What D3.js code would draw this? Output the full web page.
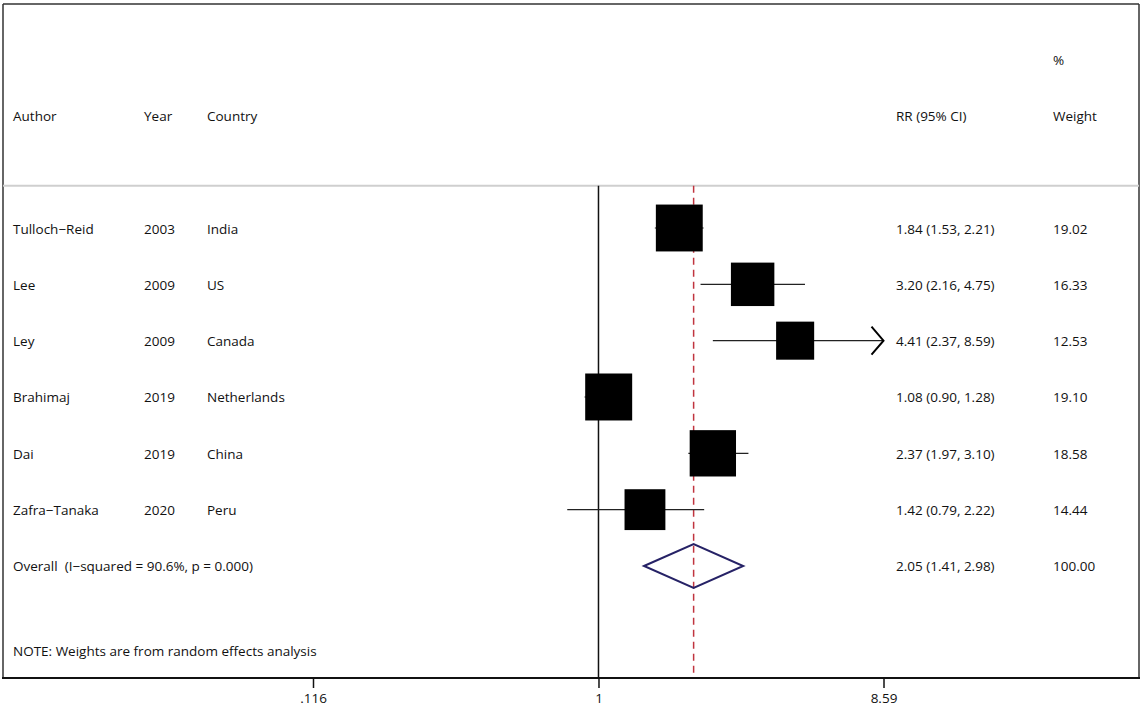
<!DOCTYPE html>
<html>
<head>
<meta charset="utf-8">
<script src="https://cdn.jsdelivr.net/npm/d3@7"></script>
<style>
  html, body { margin: 0; padding: 0; background: #fff; }
  svg text { font-family: "Open Sans", "Noto Sans", sans-serif; font-size: 13.5px; fill: #111; white-space: pre; }
</style>
</head>
<body>
<svg id="chart" width="1141" height="714"></svg>
<script>
// ---- data ----
const authors   = ["Tulloch\u2212Reid", "Lee", "Ley", "Brahimaj", "Dai", "Zafra\u2212Tanaka"];
const years     = ["2003", "2009", "2009", "2019", "2019", "2020"];
const countries = ["India", "US", "Canada", "Netherlands", "China", "Peru"];
const rr        = [1.84, 3.20, 4.41, 1.08, 2.37, 1.42];
const lower     = [1.53, 2.16, 2.37, 0.90, 1.97, 0.79];
const upper     = [2.21, 4.75, 8.59, 1.28, 3.10, 2.22];
const weights   = [19.02, 16.33, 12.53, 19.10, 18.58, 14.44];
const overall   = { label: "Overall  (I\u2212squared = 90.6%, p = 0.000)", rr: 2.05, lower: 1.41, upper: 2.98, weight: 100.00 };
const tickValues = [0.116, 1, 8.59];
const tickLabels = [".116", "1", "8.59"];
const noteText = "NOTE: Weights are from random effects analysis";

// ---- layout ----
const frame = { left: 3, top: 4, right: 1139, bottom: 678 };
const svg = d3.select("#chart");

const x = d3.scaleLog().domain([0.116, 8.59]).range([313, 883.5]);
const y = d3.scaleLinear().domain([0, 1]).range([228, 284.33]); // row index -> px
const boxSide = d3.scaleSqrt().domain([0, 100]).range([0, 107.5]);
const fmt = d3.format(".2f");

const cols = { author: 13, year: 144, country: 207, rr: 896, weight: 1053 };
const baseOff = 5.5;

// frame
[[frame.left, frame.top, frame.right, frame.top],
 [frame.left, frame.top, frame.left, frame.bottom],
 [frame.right, frame.top, frame.right, frame.bottom]].forEach(([x1, y1, x2, y2]) =>
  svg.append("line").attr("x1", x1).attr("y1", y1).attr("x2", x2).attr("y2", y2)
    .attr("stroke", "#333").attr("stroke-width", 1.5));

// header separator
const sepY = y(-0.75);
svg.append("line").attr("x1", frame.left).attr("x2", frame.right).attr("y1", sepY).attr("y2", sepY)
  .attr("stroke", "#cfcfcf").attr("stroke-width", 2);

// header text
const hdrY = y(-2) + baseOff;
svg.append("text").attr("x", cols.author).attr("y", hdrY).text("Author");
svg.append("text").attr("x", cols.year).attr("y", hdrY).text("Year");
svg.append("text").attr("x", cols.country).attr("y", hdrY).text("Country");
svg.append("text").attr("x", cols.rr).attr("y", hdrY).text("RR (95% CI)");
svg.append("text").attr("x", cols.weight).attr("y", hdrY).text("Weight");
svg.append("text").attr("x", cols.weight).attr("y", y(-3) + baseOff).text("%");

// null line at 1
svg.append("line").attr("x1", x(1)).attr("x2", x(1)).attr("y1", sepY).attr("y2", frame.bottom)
  .attr("stroke", "#111").attr("stroke-width", 1.5);

// overall dashed line
svg.append("line").attr("x1", x(overall.rr)).attr("x2", x(overall.rr)).attr("y1", sepY).attr("y2", frame.bottom)
  .attr("stroke", "#c0343f").attr("stroke-width", 1.5).attr("stroke-dasharray", "7,5");

// studies
const studies = authors.map((a, i) => ({ a, yr: years[i], c: countries[i], rr: rr[i], lo: lower[i], hi: upper[i], w: weights[i], i }));
const [dMin, dMax] = x.domain();

const g = svg.append("g");
studies.forEach(d => {
  const cy = y(d.i);
  const s = boxSide(d.w);
  const lo = Math.max(d.lo, dMin), hi = Math.min(d.hi, dMax);
  g.append("line").attr("x1", x(lo)).attr("x2", x(hi)).attr("y1", cy).attr("y2", cy)
    .attr("stroke", "#222").attr("stroke-width", 1.2);
  g.append("rect").attr("x", x(d.rr) - s / 2).attr("y", cy - s / 2).attr("width", s).attr("height", s)
    .attr("fill", "#000");
  if (d.hi >= dMax) {
    const tx = x(dMax);
    g.append("path").attr("d", `M${tx - 12},${cy - 14} L${tx},${cy} L${tx - 12},${cy + 14}`)
      .attr("fill", "none").attr("stroke", "#000").attr("stroke-width", 2);
  }
  const ty = cy + baseOff;
  g.append("text").attr("x", cols.author).attr("y", ty).text(d.a);
  g.append("text").attr("x", cols.year).attr("y", ty).text(d.yr);
  g.append("text").attr("x", cols.country).attr("y", ty).text(d.c);
  g.append("text").attr("x", cols.rr).attr("y", ty).text(`${fmt(d.rr)} (${fmt(d.lo)}, ${fmt(d.hi)})`);
  g.append("text").attr("x", cols.weight).attr("y", ty).text(fmt(d.w));
});

// overall diamond
const oy = y(6);
svg.append("path")
  .attr("d", `M${x(overall.lower)},${oy} L${x(overall.rr)},${oy - 22} L${x(overall.upper)},${oy} L${x(overall.rr)},${oy + 22} Z`)
  .attr("fill", "none").attr("stroke", "#262266").attr("stroke-width", 2);
svg.append("text").attr("x", cols.author).attr("y", oy + baseOff).attr("xml:space", "preserve").text(overall.label);
svg.append("text").attr("x", cols.rr).attr("y", oy + baseOff)
  .text(`${fmt(overall.rr)} (${fmt(overall.lower)}, ${fmt(overall.upper)})`);
svg.append("text").attr("x", cols.weight).attr("y", oy + baseOff).text(fmt(overall.weight));

// note
svg.append("text").attr("x", cols.author).attr("y", y(7.5) + baseOff).text(noteText);

// x axis
svg.append("line").attr("x1", frame.left - 1).attr("x2", frame.right + 1).attr("y1", frame.bottom).attr("y2", frame.bottom)
  .attr("stroke", "#111").attr("stroke-width", 2);
const axis = d3.axisBottom(x).tickValues(tickValues).tickSize(10).tickPadding(5)
  .tickFormat((v, i) => tickLabels[i]);
const ax = svg.append("g").attr("transform", `translate(0,${frame.bottom})`).call(axis);
ax.select(".domain").remove();
ax.selectAll(".tick line").attr("stroke", "#111").attr("stroke-width", 1.5);
ax.selectAll(".tick text").style("font-family", '"Open Sans", "Noto Sans", sans-serif').style("font-size", "13.5px").attr("fill", "#111");
</script>
</body>
</html>
